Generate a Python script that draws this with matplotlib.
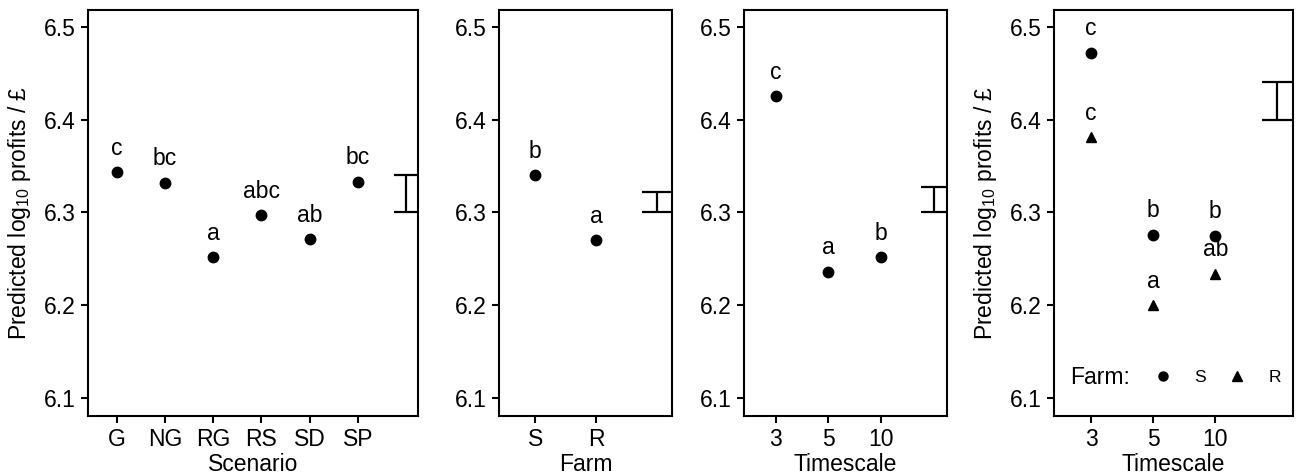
import matplotlib
matplotlib.use("Agg")
import matplotlib.pyplot as plt
from matplotlib.lines import Line2D

plt.rcParams['font.family'] = ['Liberation Sans', 'DejaVu Sans']
plt.rcParams['mathtext.default'] = 'regular'

# ---- data ----
scen_cats = ["G", "NG", "RG", "RS", "SD", "SP"]
scen_vals = [6.343, 6.332, 6.252, 6.297, 6.271, 6.333]
scen_lets = ["c", "bc", "a", "abc", "ab", "bc"]
scen_err = (6.300, 6.340)

farm_cats = ["S", "R"]
farm_vals = [6.340, 6.270]
farm_lets = ["b", "a"]
farm_err = (6.300, 6.322)

time_cats = ["3", "5", "10"]
time_vals = [6.425, 6.236, 6.252]
time_lets = ["c", "a", "b"]
time_err = (6.300, 6.327)

int_S_vals = [6.472, 6.276, 6.275]
int_S_lets = ["c", "b", "b"]
int_R_vals = [6.381, 6.200, 6.234]
int_R_lets = ["c", "a", "ab"]
int_err = (6.400, 6.440)

yticks = [6.1, 6.2, 6.3, 6.4, 6.5]
ylabel = "Predicted log$_{10}$ profits / £"

FS = 16.5
W, H = 1302, 476
fig = plt.figure(figsize=(W / 100, H / 100), dpi=100)

def px_axes(l, r, t, b):
    return fig.add_axes([l / W, 1 - b / H, (r - l) / W, (b - t) / H])

def style(ax, cats, err):
    n = len(cats)
    ax.set_xlim(0.4, n + 1.25)
    ax.set_ylim(6.0806, 6.518)
    ax.set_xticks(range(1, n + 1))
    ax.set_xticklabels(cats)
    ax.set_yticks(yticks)
    ax.set_yticklabels([f"{v:.1f}" for v in yticks])
    ax.tick_params(direction='out', length=5, width=1.5, labelsize=FS, pad=4, colors='black')
    for s in ax.spines.values():
        s.set_linewidth(1.5)
    # error bar at position n+1
    xe = n + 1
    ax.vlines(xe, err[0], err[1], colors='black', lw=1.6)
    ax.hlines([err[0], err[1]], xe - 0.25, xe + 0.25, colors='black', lw=1.6)

def points(ax, vals, lets, marker='o'):
    xs = list(range(1, len(vals) + 1))
    ax.plot(xs, vals, linestyle='none', marker=marker, color='black', markersize=7.5, clip_on=False)
    for x, v, t in zip(xs, vals, lets):
        ax.annotate(t, (x, v), xytext=(0, 12.5), textcoords='offset points',
                    ha='center', va='baseline', fontsize=FS)

LP = 1.0

ax1 = px_axes(88, 418, 10, 416)
style(ax1, scen_cats, scen_err)
points(ax1, scen_vals, scen_lets)
ax1.set_xlabel("Scenario", fontsize=FS, labelpad=LP)
ax1.set_ylabel(ylabel, fontsize=FS, labelpad=8)

ax2 = px_axes(499, 672, 10, 416)
style(ax2, farm_cats, farm_err)
points(ax2, farm_vals, farm_lets)
ax2.set_xlabel("Farm", fontsize=FS, labelpad=LP)

ax3 = px_axes(744, 947, 10, 416)
style(ax3, time_cats, time_err)
points(ax3, time_vals, time_lets)
ax3.set_xlabel("Timescale", fontsize=FS, labelpad=LP)

ax4 = px_axes(1054, 1293, 10, 416)
style(ax4, time_cats, int_err)
points(ax4, int_S_vals, int_S_lets, 'o')
points(ax4, int_R_vals, int_R_lets, '^')
ax4.set_xlabel("Timescale", fontsize=FS, labelpad=LP)
ax4.set_ylabel(ylabel, fontsize=FS, labelpad=8)

ax4.text(0.067, 0.096, "Farm:", transform=ax4.transAxes, fontsize=FS, ha='left', va='center')
handles = [Line2D([], [], linestyle='none', marker='o', color='black', markersize=6.5),
           Line2D([], [], linestyle='none', marker='^', color='black', markersize=7)]
ax4.legend(handles, farm_cats, loc='center left', bbox_to_anchor=(0.42, 0.096), ncol=2,
           frameon=False, fontsize=12.5, handlelength=1.0, handletextpad=1.3,
           columnspacing=1.3, borderpad=0, borderaxespad=0)

fig.savefig("out.png", dpi=100)
